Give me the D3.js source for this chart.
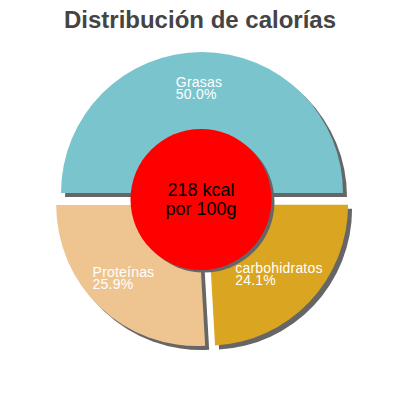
<!DOCTYPE html>
<html>
<head>
<meta charset="utf-8">
<script src="https://cdn.jsdelivr.net/npm/d3@7"></script>
<style>
  body { margin: 0; background: #fff; }
</style>
</head>
<body>
<svg id="chart"></svg>
<script>
// data
const categories = ["Grasas", "carbohidratos", "Proteínas"];
const percents = [50.0, 24.1, 25.9];
const energyLines = ["218 kcal", "por 100g"];
const title = "Distribución de calorías";

const width = 400;
const height = 400;
const cx = 202;
const cy = 200;
const radius = 141;
const explode = 7;
const shadowOff = 4;

const color = d3.scaleOrdinal()
  .domain(categories)
  .range(["#7ac5cd", "#daa520", "#eec591"]);

const svg = d3.select("#chart")
  .attr("width", width)
  .attr("height", height)
  .attr("viewBox", [0, 0, width, height]);

// title
svg.append("text")
  .attr("x", width / 2)
  .attr("y", 28)
  .attr("text-anchor", "middle")
  .attr("fill", "#444")
  .attr("font-family", "Liberation Sans, Arial, sans-serif")
  .attr("font-weight", "bold")
  .attr("font-size", 24)
  .text(title);

const pie = d3.pie()
  .sort(null)
  .startAngle(-Math.PI / 2)
  .endAngle(Math.PI * 3 / 2)
  .value((d, i) => percents[i]);

const arcs = pie(categories);

const arc = d3.arc().innerRadius(0).outerRadius(radius);

// offset of a slice along its mid angle
const shift = (d, r) => {
  const a = (d.startAngle + d.endAngle) / 2;
  return [Math.sin(a) * r, -Math.cos(a) * r];
};

const g = svg.append("g").attr("transform", `translate(${cx},${cy})`);

// shadows first
g.selectAll("path.shadow")
  .data(arcs)
  .join("path")
    .attr("class", "shadow")
    .attr("fill", "#666")
    .attr("transform", d => {
      const [dx, dy] = shift(d, explode);
      return `translate(${dx + shadowOff},${dy + shadowOff})`;
    })
    .attr("d", arc);

g.selectAll("path.slice")
  .data(arcs)
  .join("path")
    .attr("class", "slice")
    .attr("fill", d => color(d.data))
    .attr("transform", d => {
      const [dx, dy] = shift(d, explode);
      return `translate(${dx},${dy})`;
    })
    .attr("d", arc);

// labels
const labelR = 103;
arcs.forEach((d, i) => {
  const [ex, ey] = shift(d, explode);
  const [lx, ly] = shift(d, labelR);
  const t = g.append("text")
    .attr("fill", "#fff")
    .attr("font-family", "Liberation Sans, Arial, sans-serif")
    .attr("font-size", 14)
    .attr("letter-spacing", 0.2);
  const l1 = t.append("tspan").attr("y", ey + ly - 3).text(d.data);
  const l2 = t.append("tspan").attr("y", ey + ly + 9).text(percents[i].toFixed(1) + "%");
  const w = Math.max(l1.node().getComputedTextLength(), l2.node().getComputedTextLength());
  t.selectAll("tspan").attr("x", ex + lx - w / 2 - 3);
});

// centre circle
g.append("circle")
  .attr("cx", 2)
  .attr("cy", 2)
  .attr("r", 70.5)
  .attr("fill", "#666");

g.append("circle")
  .attr("cx", -1)
  .attr("cy", -0.5)
  .attr("r", 70.5)
  .attr("fill", "#ff0000");

g.append("text")
  .attr("text-anchor", "middle")
  .attr("font-family", "Liberation Sans, Arial, sans-serif")
  .attr("font-size", 18)
  .attr("fill", "#000")
  .selectAll("tspan")
  .data(energyLines)
  .join("tspan")
    .attr("x", -1)
    .attr("y", (d, i) => -4 + i * 19)
    .text(d => d);
</script>
</body>
</html>
